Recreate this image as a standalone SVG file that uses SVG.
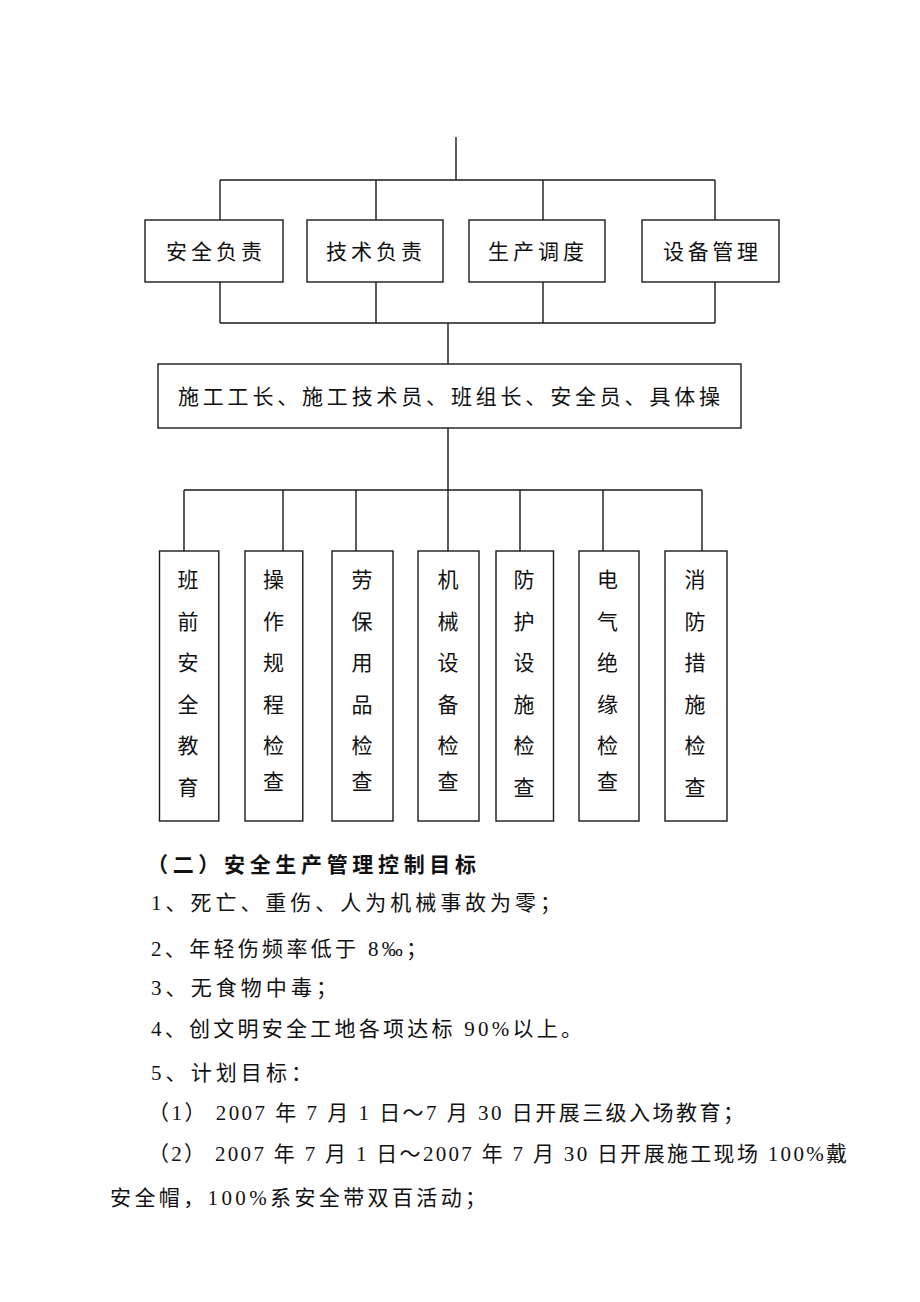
<svg xmlns="http://www.w3.org/2000/svg" width="920" height="1302" viewBox="0 0 920 1302">
<style>
.bx{fill:#fff;stroke:#1a1a1a;stroke-width:1.4}
.ln{fill:none;stroke:#1a1a1a;stroke-width:1.4}
.t{font-family:"Liberation Serif","Noto Sans CJK SC",sans-serif;font-size:21px;fill:#111}
.v{font-family:"Noto Sans CJK SC",sans-serif;font-size:21px;fill:#111;text-anchor:middle}
.h{font-family:"Noto Sans CJK SC",sans-serif;font-size:21px;font-weight:bold;fill:#111}
</style>
<rect width="920" height="1302" fill="#fff"/>
<g id="connectors">
<path class="ln" d="M456,137V180M220,180H715M220,180V220M376,180V220M543,180V220M715,180V220"/>
<path class="ln" d="M220,282V323M376,282V323M543,282V323M715,282V323M220,323H715M448,323V364"/>
<path class="ln" d="M448,428V490M184,490H702M184,490V551M283,490V551M356,490V551M448,490V551M520,490V551M603,490V551M702,490V551"/>
</g>
<g id="n1"><rect class="bx" x="145" y="220" width="138" height="62"/><text class="t" x="166" y="259" textLength="96">安全负责</text></g>
<g id="n2"><rect class="bx" x="307" y="220" width="136" height="62"/><text class="t" x="326" y="259" textLength="96">技术负责</text></g>
<g id="n3"><rect class="bx" x="469" y="220" width="136" height="62"/><text class="t" x="488" y="259" textLength="96">生产调度</text></g>
<g id="n4"><rect class="bx" x="642" y="220" width="137" height="62"/><text class="t" x="663" y="259" textLength="95">设备管理</text></g>
<g id="n5"><rect class="bx" x="158" y="364" width="583" height="64"/><text class="t" x="178" y="404" textLength="542">施工工长、施工技术员、班组长、安全员、具体操</text></g>
<g id="c1"><rect class="bx" x="159.5" y="551" width="59.3" height="270"/><text class="v"><tspan x="188" y="587">班</tspan><tspan x="188" y="628.6">前</tspan><tspan x="188" y="670.2">安</tspan><tspan x="188" y="711.8">全</tspan><tspan x="188" y="753.4">教</tspan><tspan x="188" y="795">育</tspan></text></g>
<g id="c2"><rect class="bx" x="245" y="551" width="57.8" height="270"/><text class="v"><tspan x="273.5" y="587">操</tspan><tspan x="273.5" y="628.6">作</tspan><tspan x="273.5" y="670.2">规</tspan><tspan x="273.5" y="711.8">程</tspan><tspan x="273.5" y="753.4">检</tspan><tspan x="273.5" y="789">查</tspan></text></g>
<g id="c3"><rect class="bx" x="332" y="551" width="61" height="270"/><text class="v"><tspan x="362" y="587">劳</tspan><tspan x="362" y="628.6">保</tspan><tspan x="362" y="670.2">用</tspan><tspan x="362" y="711.8">品</tspan><tspan x="362" y="753.4">检</tspan><tspan x="362" y="789">查</tspan></text></g>
<g id="c4"><rect class="bx" x="418" y="551" width="61" height="270"/><text class="v"><tspan x="448" y="587">机</tspan><tspan x="448" y="628.6">械</tspan><tspan x="448" y="670.2">设</tspan><tspan x="448" y="711.8">备</tspan><tspan x="448" y="753.4">检</tspan><tspan x="448" y="789">查</tspan></text></g>
<g id="c5"><rect class="bx" x="496" y="551" width="57.5" height="270"/><text class="v"><tspan x="524" y="587">防</tspan><tspan x="524" y="628.6">护</tspan><tspan x="524" y="670.2">设</tspan><tspan x="524" y="711.8">施</tspan><tspan x="524" y="753.4">检</tspan><tspan x="524" y="795">查</tspan></text></g>
<g id="c6"><rect class="bx" x="579" y="551" width="60" height="270"/><text class="v"><tspan x="607.5" y="587">电</tspan><tspan x="607.5" y="628.6">气</tspan><tspan x="607.5" y="670.2">绝</tspan><tspan x="607.5" y="711.8">缘</tspan><tspan x="607.5" y="753.4">检</tspan><tspan x="607.5" y="789">查</tspan></text></g>
<g id="c7"><rect class="bx" x="665" y="551" width="62" height="270"/><text class="v"><tspan x="695" y="587">消</tspan><tspan x="695" y="628.6">防</tspan><tspan x="695" y="670.2">措</tspan><tspan x="695" y="711.8">施</tspan><tspan x="695" y="753.4">检</tspan><tspan x="695" y="795">查</tspan></text></g>
<g id="body">
<text class="h" x="147" y="872" textLength="329">（二）安全生产管理控制目标</text>
<text class="t" x="151" y="910" textLength="410">1、死亡、重伤、人为机械事故为零；</text>
<text class="t" x="151" y="956" textLength="276">2、年轻伤频率低于 8‰；</text>
<text class="t" x="151" y="995" textLength="186">3、无食物中毒；</text>
<text class="t" x="151" y="1036" textLength="431">4、创文明安全工地各项达标 90%以上。</text>
<text class="t" x="151" y="1080" textLength="161">5、计划目标：</text>
<text class="t" x="148" y="1120" textLength="596">（1） 2007 年 7 月 1 日～7 月 30 日开展三级入场教育；</text>
<text class="t" x="148" y="1161" textLength="699">（2） 2007 年 7 月 1 日～2007 年 7 月 30 日开展施工现场 100%戴</text>
<text class="t" x="110" y="1205" textLength="376">安全帽，100%系安全带双百活动；</text>
</g>
</svg>
